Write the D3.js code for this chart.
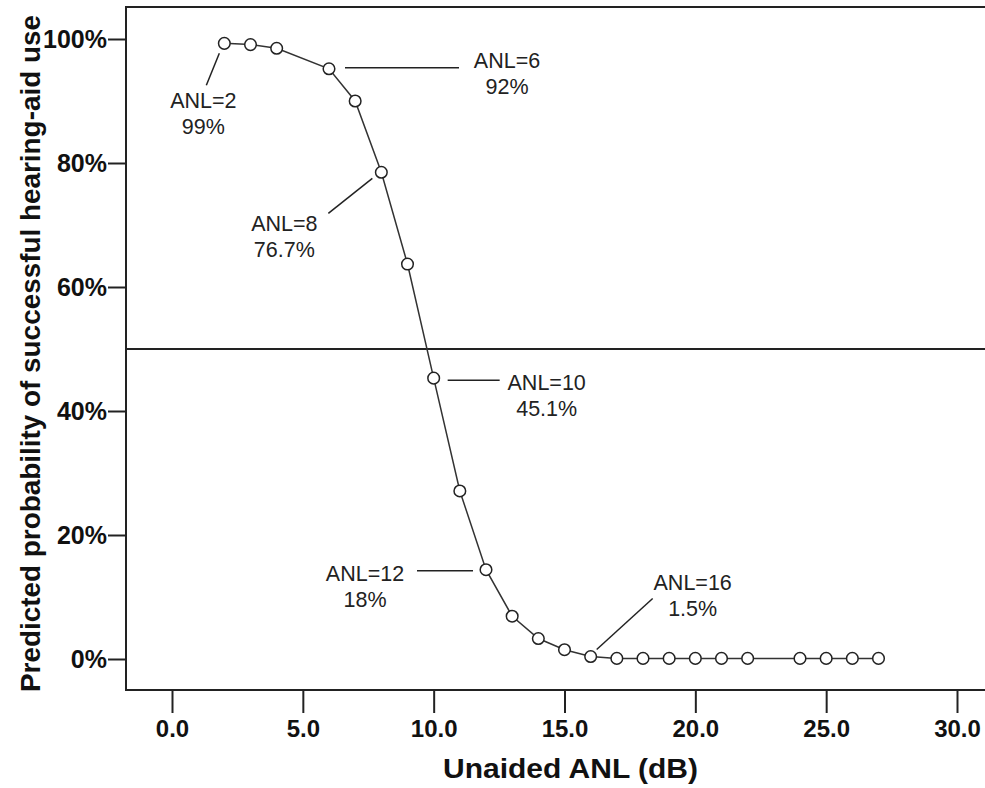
<!DOCTYPE html>
<html>
<head>
<meta charset="utf-8">
<script src="https://cdn.jsdelivr.net/npm/d3@7"></script>
<style>
  body { margin: 0; background: #fff; }
  svg { font-family: "Liberation Sans", Arial, Helvetica, sans-serif; }
</style>
</head>
<body>
<svg id="chart" width="985" height="788"></svg>
<script>
// data
let anl = [2, 3, 4, 6, 7, 8, 9, 10, 11, 12, 13, 14, 15, 16, 17, 18, 19, 20, 21, 22, 24, 25, 26, 27]
let prob = [99.3, 99.1, 98.5, 95.2, 90.0, 78.5, 63.7, 45.3, 27.1, 14.4, 6.9, 3.3, 1.5, 0.4, 0.1, 0.1, 0.1, 0.1, 0.1, 0.1, 0.1, 0.1, 0.1, 0.1]
let xTicks = [0, 5, 10, 15, 20, 25, 30]
let yTicks = [0, 20, 40, 60, 80, 100]
let cutoff = 50

// callouts: point it refers to, two label lines
let noteX = [2, 6, 8, 10, 12, 16]
let noteLabel = ['ANL=2', 'ANL=6', 'ANL=8', 'ANL=10', 'ANL=12', 'ANL=16']
let noteValue = ['99%', '92%', '76.7%', '45.1%', '18%', '1.5%']

let svg = d3.select('#chart')

let plotLeft = 126, plotRight = 985, plotTop = 7, plotBottom = 690

let x = d3.scaleLinear().domain([0, 30]).range([172, 957])
let y = d3.scaleLinear().domain([0, 100]).range([659, 39])

// frame: left axis, top line, bottom axis (right side is cut off)
svg.append('path')
    .attr('d', `M${plotRight},${plotTop}H${plotLeft}V${plotBottom}H${plotRight}`)
    .attr('fill', 'none')
    .attr('stroke', '#222')
    .attr('stroke-width', 2)

// 50% reference line
svg.append('line')
    .attr('x1', plotLeft).attr('x2', plotRight)
    .attr('y1', y(cutoff)).attr('y2', y(cutoff))
    .attr('stroke', '#222')
    .attr('stroke-width', 2)

// x axis
let xAxis = svg.append('g')
    .attr('transform', `translate(0,${plotBottom})`)
    .call(d3.axisBottom(x).tickValues(xTicks).tickSize(23).tickPadding(7).tickFormat(d3.format('.1f')))
xAxis.select('.domain').remove()
xAxis.selectAll('line').attr('stroke', '#222').attr('stroke-width', 2)
xAxis.selectAll('text')
    .attr('fill', '#111')
    .style('font-size', '24px')
    .style('font-weight', 'bold')
    .style('font-family', '"Liberation Sans", Arial, sans-serif')

// y axis
let yAxis = svg.append('g')
    .attr('transform', `translate(${plotLeft},0)`)
    .call(d3.axisLeft(y).tickValues(yTicks).tickSize(18).tickPadding(1).tickFormat(d => d + '%'))
yAxis.select('.domain').remove()
yAxis.selectAll('line').attr('stroke', '#222').attr('stroke-width', 2)
yAxis.selectAll('text')
    .attr('fill', '#111')
    .style('font-size', '25px')
    .style('font-weight', 'bold')
    .style('font-family', '"Liberation Sans", Arial, sans-serif')

// axis titles (the original face runs wider than Liberation, so stretch to its length)
svg.append('text')
    .attr('x', 443).attr('y', 778)
    .attr('textLength', 255)
    .attr('lengthAdjust', 'spacingAndGlyphs')
    .style('font-size', '27px')
    .style('font-weight', 'bold')
    .attr('fill', '#111')
    .text('Unaided ANL (dB)')

svg.append('text')
    .attr('transform', 'translate(40,692) rotate(-90)')
    .attr('textLength', 677)
    .attr('lengthAdjust', 'spacingAndGlyphs')
    .style('font-size', '27px')
    .style('font-weight', 'bold')
    .attr('fill', '#111')
    .text('Predicted probability of successful hearing-aid use')

// curve
let points = anl.map((d, i) => [d, prob[i]])
svg.append('path')
    .datum(points)
    .attr('d', d3.line().x(d => x(d[0])).y(d => y(d[1])))
    .attr('fill', 'none')
    .attr('stroke', '#333')
    .attr('stroke-width', 1.5)

svg.selectAll('circle.pt')
    .data(points)
    .enter()
    .append('circle')
    .attr('class', 'pt')
    .attr('cx', d => x(d[0]))
    .attr('cy', d => y(d[1]))
    .attr('r', 5.8)
    .attr('fill', '#fff')
    .attr('stroke', '#222')
    .attr('stroke-width', 1.5)

// callout placement (offsets from the point, in px)
let leader = [
    [[-5, 10], [-18, 42]],
    [[16, -1], [130, -1]],
    [[-9, 6], [-53, 41]],
    [[14, 2], [66, 2]],
    [[-13, 1], [-69, 1]],
    [[6, -7], [62, -58]]
]
let textPos = [[-21, 65], [178, -1], [-97, 59], [113, 12], [-121, 11], [102, -67]]

noteX.forEach((nx, i) => {
    let px = x(nx)
    let py = y(prob[anl.indexOf(nx)])
    let l = leader[i]
    svg.append('line')
        .attr('x1', px + l[0][0]).attr('y1', py + l[0][1])
        .attr('x2', px + l[1][0]).attr('y2', py + l[1][1])
        .attr('stroke', '#222')
        .attr('stroke-width', 1.5)
    let t = svg.append('text')
        .attr('x', px + textPos[i][0])
        .attr('y', py + textPos[i][1])
        .attr('text-anchor', 'middle')
        .attr('fill', '#222')
        .style('font-size', '21.5px')
    t.append('tspan').attr('x', px + textPos[i][0]).text(noteLabel[i])
    t.append('tspan').attr('x', px + textPos[i][0]).attr('dy', 26).text(noteValue[i])
})
</script>
</body>
</html>
